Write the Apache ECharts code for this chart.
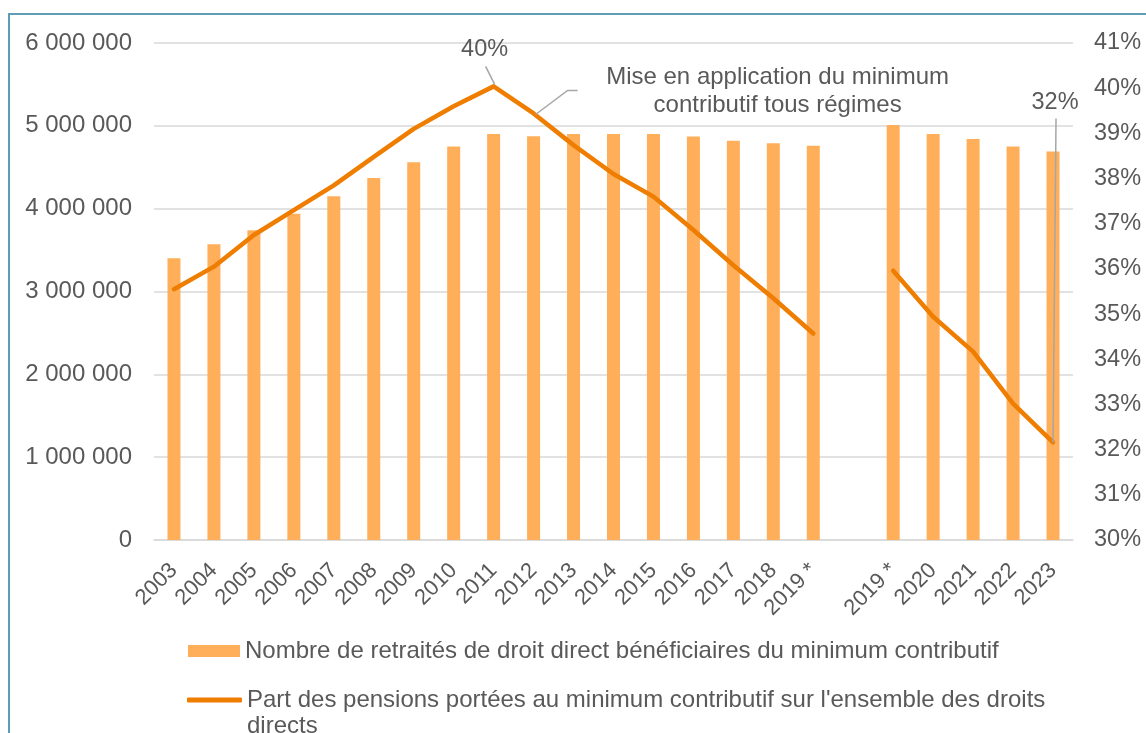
<!DOCTYPE html>
<html>
<head>
<meta charset="utf-8">
<script src="https://cdn.jsdelivr.net/npm/echarts@6/dist/echarts.min.js"></script>
<style>
  html, body { margin: 0; padding: 0; background: #fff; }
  #chart { width: 1146px; height: 733px; }
</style>
</head>
<body>
<div id="chart"></div>
<script>
// categories (the empty one is the break between the two 2019 series)
const years = ['2003', '2004', '2005', '2006', '2007', '2008', '2009', '2010', '2011', '2012',
  '2013', '2014', '2015', '2016', '2017', '2018', '2019 *', '', '2019 *', '2020', '2021', '2022', '2023'];

// nombre de retraités (left axis)
const retraites = [3400000, 3570000, 3740000, 3940000, 4150000, 4370000, 4560000, 4750000, 4900000, 4875000,
  4900000, 4900000, 4900000, 4870000, 4820000, 4790000, 4760000, null, 5010000, 4900000, 4840000, 4750000, 4690000];

// part des pensions, in % (right axis)
const partPensions = [35.55, 36.05, 36.75, 37.3, 37.85, 38.48, 39.1, 39.6, 40.04, 39.44,
  38.74, 38.1, 37.6, 36.86, 36.08, 35.35, 34.57, null, 35.96, 34.94, 34.17, 33.02, 32.16];

const countTicks = [0, 1000000, 2000000, 3000000, 4000000, 5000000, 6000000];
const pctTicks = [30, 31, 32, 33, 34, 35, 36, 37, 38, 39, 40, 41];

const seriesNames = [
  'Nombre de retraités de droit direct bénéficiaires du minimum contributif',
  "Part des pensions portées au minimum contributif sur l'ensemble des droits directs"
];

// annotations: category index on the line + text
const notes = [
  { index: 8, text: '40%' },
  { index: 22, text: '32%' },
  { index: 9, text: 'Mise en application du minimum\ncontributif tous régimes' }
];

const FONT = "'Liberation Sans', Arial, sans-serif";
const GREY = '#595959';
const GRID_GREY = '#d9d9d9';
const BAR_COLOR = '#FFAF5A';
const LINE_COLOR = '#EE7D00';

const fmtCount = v => String(v).replace(/\B(?=(\d{3})+(?!\d))/g, ' ');

// legend 2 wraps its last word onto a second line; the leading empty line keeps
// the icon level with the first line of text
const wrapLast = name => {
  const i = name.lastIndexOf(' ');
  return '\n' + name.slice(0, i) + '\n' + name.slice(i + 1);
};

const chart = echarts.init(document.getElementById('chart'));

chart.setOption({
  animation: false,
  backgroundColor: '#fff',
  textStyle: { fontFamily: FONT },
  grid: { left: 154, right: 73, top: 43, bottom: 193 },
  legend: [
    {
      orient: 'vertical',
      left: 183,
      top: 633,
      itemWidth: 52,
      itemHeight: 12,
      icon: 'rect',
      selectedMode: false,
      data: [seriesNames[0]],
      textStyle: { fontSize: 24, color: GREY, fontFamily: FONT, lineHeight: 26 }
    },
    {
      orient: 'vertical',
      left: 182,
      top: 656,
      itemWidth: 55,
      itemHeight: 5,
      icon: 'roundRect',
      selectedMode: false,
      data: [seriesNames[1]],
      formatter: wrapLast,
      itemStyle: { color: LINE_COLOR },
      textStyle: { fontSize: 24, color: GREY, fontFamily: FONT, lineHeight: 26 }
    }
  ],
  xAxis: {
    type: 'category',
    data: years,
    axisTick: { show: false },
    axisLine: { lineStyle: { color: GRID_GREY, width: 1.5 } },
    axisLabel: { rotate: 45, interval: 0, fontSize: 22, color: GREY, margin: 27, fontFamily: FONT }
  },
  yAxis: [
    {
      type: 'value',
      min: countTicks[0],
      max: countTicks[countTicks.length - 1],
      interval: countTicks[1] - countTicks[0],
      axisLine: { show: false },
      axisTick: { show: false },
      splitLine: { lineStyle: { color: GRID_GREY, width: 1.5 } },
      axisLabel: { formatter: fmtCount, fontSize: 24, color: GREY, margin: 22, fontFamily: FONT }
    },
    {
      type: 'value',
      position: 'right',
      min: pctTicks[0],
      max: pctTicks[pctTicks.length - 1],
      interval: pctTicks[1] - pctTicks[0],
      axisLine: { show: false },
      axisTick: { show: false },
      splitLine: { show: false },
      axisLabel: { formatter: '{value}%', fontSize: 23.5, color: GREY, margin: 21, fontFamily: FONT }
    }
  ],
  series: [
    {
      name: seriesNames[0],
      type: 'bar',
      data: retraites,
      barWidth: 13,
      itemStyle: { color: BAR_COLOR }
    },
    {
      name: seriesNames[1],
      type: 'line',
      yAxisIndex: 1,
      data: partPensions,
      symbol: 'none',
      connectNulls: false,
      lineStyle: { color: LINE_COLOR, width: 4.5, cap: 'round', join: 'round' },
      itemStyle: { color: LINE_COLOR }
    }
  ]
});

// leader lines and note texts, placed from the line points
const at = i => chart.convertToPixel({ seriesIndex: 1 }, [i, partPensions[i]]);
const leader = { stroke: '#a6a6a6', lineWidth: 1.5, fill: null };

const p40 = at(notes[0].index);
const p32 = at(notes[1].index);
const pMise = at(notes[2].index);

chart.setOption({
  graphic: [
    {
      type: 'rect', silent: true, z: 100,
      shape: { x: 9, y: 14, width: 1160, height: 760 },
      style: { stroke: '#5f9db4', lineWidth: 2, fill: null }
    },
    {
      type: 'polyline', silent: true, z: 50,
      shape: { points: [[p40[0] + 1, p40[1] - 2], [p40[0] - 8, p40[1] - 20]] },
      style: leader
    },
    {
      type: 'text', silent: true, z: 50,
      style: { text: notes[0].text, x: p40[0] - 9, y: p40[1] - 37, align: 'center', verticalAlign: 'middle', font: '23.5px ' + FONT, fill: GREY }
    },
    {
      type: 'polyline', silent: true, z: 50,
      shape: { points: [[p32[0], p32[1]], [p32[0] + 3, p32[1] - 324]] },
      style: leader
    },
    {
      type: 'text', silent: true, z: 50,
      style: { text: notes[1].text, x: p32[0] + 2, y: p32[1] - 340, align: 'center', verticalAlign: 'middle', font: '23.5px ' + FONT, fill: GREY }
    },
    {
      type: 'polyline', silent: true, z: 50,
      shape: { points: [[pMise[0] + 2, pMise[1] + 1], [pMise[0] + 34, pMise[1] - 23], [pMise[0] + 44, pMise[1] - 23]] },
      style: leader
    },
    {
      type: 'text', silent: true, z: 50,
      style: { text: notes[2].text, x: pMise[0] + 244, y: pMise[1] - 22, align: 'center', verticalAlign: 'middle', font: '24px ' + FONT, fill: GREY, lineHeight: 28 }
    }
  ]
});

window.addEventListener('resize', () => chart.resize());
</script>
</body>
</html>
